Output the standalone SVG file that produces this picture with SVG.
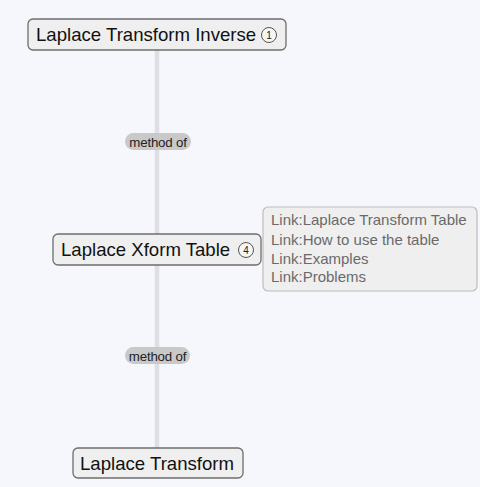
<svg xmlns="http://www.w3.org/2000/svg" width="480" height="487" viewBox="0 0 480 487">
<style>
.node rect{fill:#efefef;stroke:#6e6e6e;stroke-width:1.3}
.ttl{font-family:"Liberation Sans",Arial,sans-serif;font-size:18.6px;fill:#111}
.cnt circle{fill:#f6f6f6;stroke:#555;stroke-width:1}
.cnt text{font-family:"Liberation Sans",Arial,sans-serif;font-size:10px;fill:#222;text-anchor:middle}
.lbl rect{fill:#c9c9c9}
.lbl text{font-family:"Liberation Sans",Arial,sans-serif;font-size:13.3px;fill:#222;text-anchor:middle;letter-spacing:-0.2px}
.note rect{fill:#efefef;stroke:#bdbdbd;stroke-width:1.2}
.note text{font-family:"Liberation Sans",Arial,sans-serif;font-size:15px;fill:#6a6a6a}
</style>
<rect width="480" height="487" fill="#f6f7fc"/>
<g id="connectors">
<line x1="157" y1="50" x2="157" y2="448" stroke="#dedee4" stroke-width="4.5"/>
<g class="lbl">
<rect x="125" y="133" width="66" height="17" rx="8.5"/>
<text x="158" y="146.5">method of</text>
<rect x="125" y="347" width="65" height="17" rx="8.5"/>
<text x="157.5" y="360.5">method of</text>
</g>
</g>
<g id="node1" class="node">
<rect x="28" y="19" width="258" height="31" rx="5"/>
<text class="ttl" x="36" y="41">Laplace Transform Inverse</text>
<g class="cnt"><circle cx="269" cy="35" r="7.5"/><text x="269" y="38.5">1</text></g>
</g>
<g id="node2" class="node">
<rect x="53" y="234" width="208" height="31" rx="5"/>
<text class="ttl" x="61" y="256">Laplace Xform Table</text>
<g class="cnt"><circle cx="246" cy="250" r="7.5"/><text x="246" y="253.5">4</text></g>
</g>
<g id="note" class="note">
<rect x="263" y="207" width="214" height="84" rx="5"/>
<text x="271" y="225">Link:Laplace Transform Table</text>
<text x="271" y="245">Link:How to use the table</text>
<text x="271" y="264">Link:Examples</text>
<text x="271" y="282">Link:Problems</text>
</g>
<g id="node3" class="node">
<rect x="73" y="448" width="170" height="30" rx="5"/>
<text class="ttl" x="80" y="470">Laplace Transform</text>
</g>
</svg>
